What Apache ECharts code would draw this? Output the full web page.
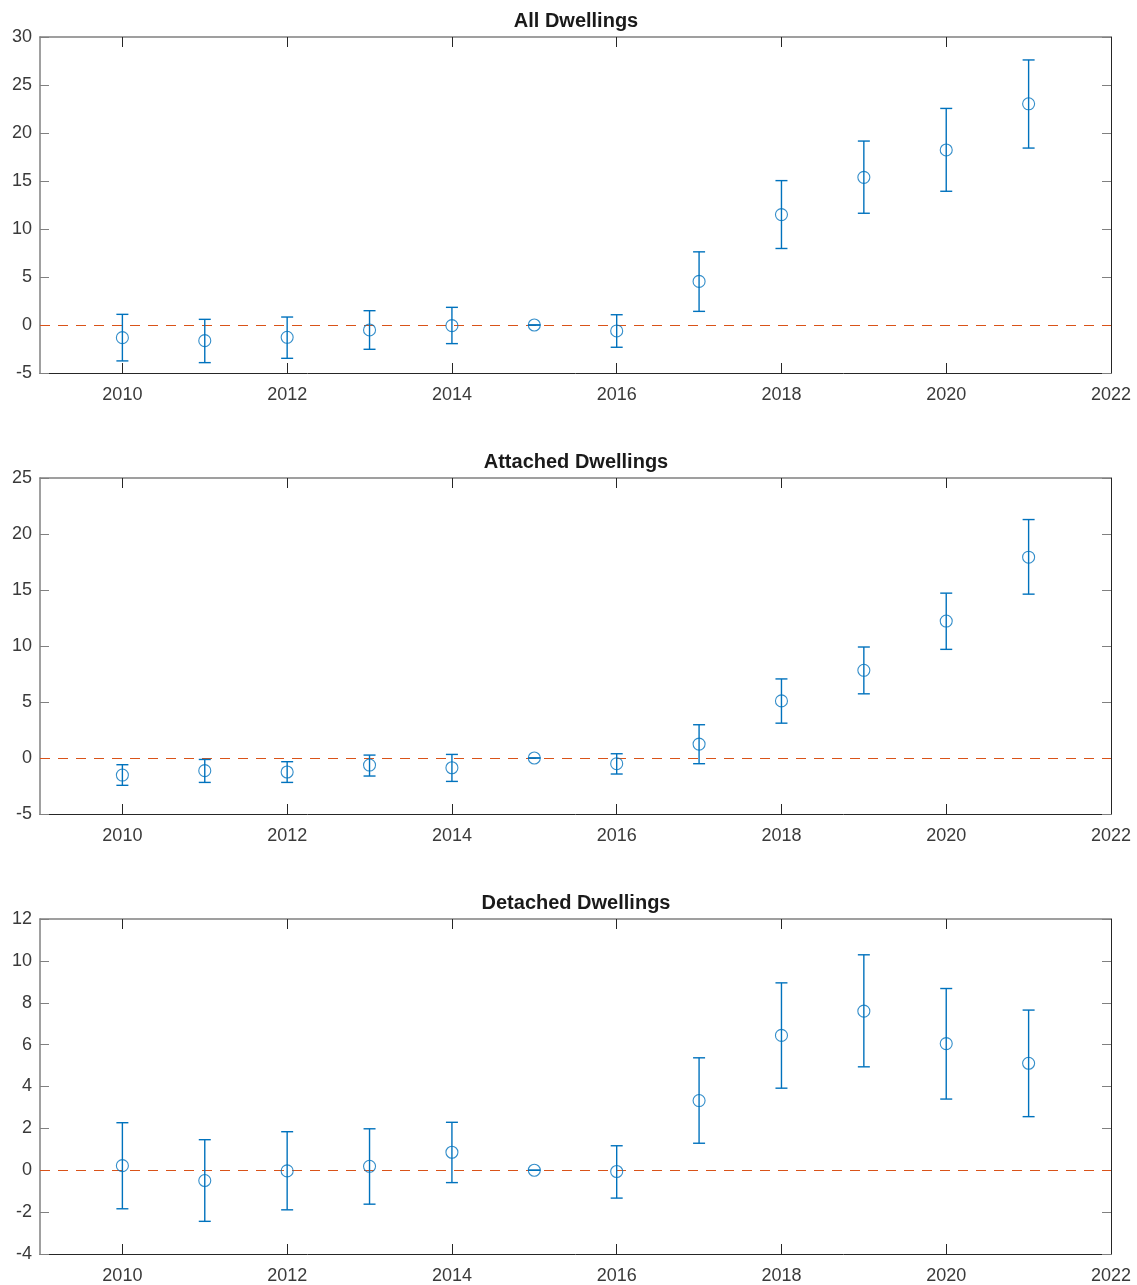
<!DOCTYPE html>
<html>
<head>
<meta charset="utf-8">
<title>Dwellings</title>
<script src="https://cdn.jsdelivr.net/npm/echarts@6/dist/echarts.min.js"></script>
<style>
  html, body { margin: 0; padding: 0; background: #fff; }
  #chart { width: 1137px; height: 1285px; }
</style>
</head>
<body>
<div id="chart"></div>
<script>
// years on the x axis
var years = [2010, 2011, 2012, 2013, 2014, 2015, 2016, 2017, 2018, 2019, 2020, 2021];
var xTicks = [2010, 2012, 2014, 2016, 2018, 2020, 2022];

// All Dwellings: estimate, lower and upper bound
var allMean = [-1.32, -1.63, -1.28, -0.52, -0.07, 0, -0.62, 4.54, 11.5, 15.38, 18.23, 23.04];
var allLow  = [-3.74, -3.92, -3.47, -2.53, -1.94, 0, -2.32, 1.42, 7.97, 11.64, 13.93, 18.43];
var allHigh = [1.11, 0.59, 0.83, 1.49, 1.84, 0, 1.07, 7.62, 15.04, 19.16, 22.56, 27.61];

// Attached Dwellings
var attMean = [-1.52, -1.13, -1.25, -0.63, -0.87, 0, -0.51, 1.24, 5.1, 7.83, 12.23, 17.93];
var attLow  = [-2.44, -2.18, -2.18, -1.61, -2.09, 0, -1.43, -0.51, 3.11, 5.73, 9.7, 14.63];
var attHigh = [-0.6, -0.13, -0.33, 0.26, 0.32, 0, 0.38, 2.97, 7.06, 9.91, 14.72, 21.29];

// Detached Dwellings
var detMean = [0.22, -0.49, -0.03, 0.19, 0.86, 0, -0.06, 3.33, 6.44, 7.6, 6.05, 5.11];
var detLow  = [-1.84, -2.44, -1.89, -1.62, -0.59, 0, -1.33, 1.29, 3.92, 4.94, 3.4, 2.56];
var detHigh = [2.27, 1.46, 1.84, 1.98, 2.29, 0, 1.17, 5.37, 8.95, 10.29, 8.68, 7.65];

var titles = ['All Dwellings', 'Attached Dwellings', 'Detached Dwellings'];
var yRanges = [[-5, 30, 5], [-5, 25, 5], [-4, 12, 2]];
var panels = [[allMean, allLow, allHigh], [attMean, attLow, attHigh], [detMean, detLow, detHigh]];

var BLUE = '#0072BD';
var ORANGE = '#D95319';
var AXIS = '#262626';
var AXIS_LIGHT = '#808080';
var LABEL = '#3a3a3a';
var FONT = '"Liberation Sans", Arial, Helvetica, sans-serif';
var tops = [37, 478, 919];
var plotH = 336;

var chart = echarts.init(document.getElementById('chart'));

function errorBar(params, api) {
  var x = api.value(0);
  var lo = api.coord([x, api.value(1)]);
  var hi = api.coord([x, api.value(2)]);
  var half = 6;
  var st = { stroke: BLUE, lineWidth: 1.4 };
  return {
    type: 'group',
    children: [
      { type: 'line', shape: { x1: hi[0], y1: hi[1], x2: lo[0], y2: lo[1] }, style: st },
      { type: 'line', shape: { x1: hi[0] - half, y1: hi[1], x2: hi[0] + half, y2: hi[1] }, style: st },
      { type: 'line', shape: { x1: lo[0] - half, y1: lo[1], x2: lo[0] + half, y2: lo[1] }, style: st }
    ]
  };
}

var grids = [], xAxes = [], yAxes = [], series = [], graphics = [];

for (var i = 0; i < 3; i++) {
  grids.push({ left: 40, right: 26, top: tops[i], height: plotH });

  // bottom x axis with labels, top x axis ticks only
  xAxes.push({
    type: 'value', gridIndex: i, position: 'bottom', min: 2009, max: 2022,
    splitLine: { show: false },
    axisLine: { show: true, onZero: false, lineStyle: { color: AXIS, width: 1 } },
    axisTick: { show: true, inside: true, length: 10, lineStyle: { color: AXIS }, customValues: xTicks },
    axisLabel: { customValues: xTicks, color: LABEL, fontSize: 18, fontFamily: FONT, margin: 13,
      formatter: function (v) { return String(v); } }
  });
  xAxes.push({
    type: 'value', gridIndex: i, position: 'top', min: 2009, max: 2022,
    splitLine: { show: false },
    axisLine: { show: true, onZero: false, lineStyle: { color: AXIS_LIGHT, width: 1.5 } },
    axisTick: { show: true, inside: true, length: 10, lineStyle: { color: AXIS }, customValues: xTicks },
    axisLabel: { show: false }
  });

  var r = yRanges[i];
  yAxes.push({
    type: 'value', gridIndex: i, position: 'left', min: r[0], max: r[1], interval: r[2],
    splitLine: { show: false },
    axisLine: { show: true, onZero: false, lineStyle: { color: AXIS_LIGHT, width: 1.5 } },
    axisTick: { show: true, inside: true, length: 9, lineStyle: { color: AXIS_LIGHT } },
    axisLabel: { color: LABEL, fontSize: 18, fontFamily: FONT, margin: 8 }
  });
  yAxes.push({
    type: 'value', gridIndex: i, position: 'right', min: r[0], max: r[1], interval: r[2],
    splitLine: { show: false },
    axisLine: { show: true, onZero: false, lineStyle: { color: AXIS, width: 1 } },
    axisTick: { show: true, inside: true, length: 9, lineStyle: { color: AXIS_LIGHT } },
    axisLabel: { show: false }
  });

  var p = panels[i];
  var barData = [], ptData = [];
  for (var k = 0; k < years.length; k++) {
    barData.push([years[k], p[1][k], p[2][k]]);
    ptData.push([years[k], p[0][k]]);
  }

  series.push({
    type: 'custom', xAxisIndex: 2 * i, yAxisIndex: 2 * i,
    renderItem: errorBar, encode: { x: 0, y: [1, 2] }, data: barData,
    silent: true, z: 3
  });
  series.push({
    type: 'scatter', xAxisIndex: 2 * i, yAxisIndex: 2 * i,
    symbol: 'circle', symbolSize: 12, data: ptData, z: 4,
    itemStyle: { color: 'rgba(0,0,0,0)', borderColor: BLUE, borderWidth: 1.1 },
    markLine: {
      silent: true, symbol: 'none', label: { show: false },
      lineStyle: { color: ORANGE, type: [10, 8], width: 1.2 },
      data: [{ yAxis: 0 }], z: 2
    }
  });

  graphics.push({
    type: 'text', x: 576, y: tops[i] - 16,
    style: { text: titles[i], align: 'center', verticalAlign: 'middle',
      font: 'bold 20px ' + FONT, fill: '#1a1a1a' }
  });
}

chart.setOption({
  animation: false,
  grid: grids,
  xAxis: xAxes,
  yAxis: yAxes,
  series: series,
  graphic: graphics
});
</script>
</body>
</html>
